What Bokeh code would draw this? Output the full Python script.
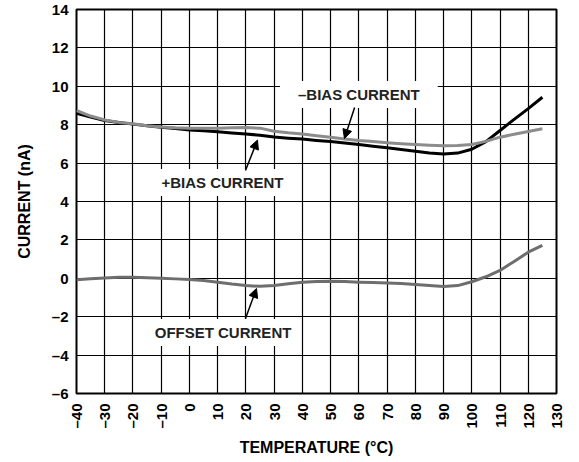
import math
from bokeh.plotting import figure
from bokeh.models import Range1d, FixedTicker, Label, Arrow, NormalHead
from bokeh.embed import file_html
from bokeh.resources import INLINE

# ---- data ----
temps = [-40, -35, -30, -25, -20, -15, -10, -5, 0, 5, 10, 15, 20, 25, 30, 35, 40,
         45, 50, 55, 60, 65, 70, 75, 80, 85, 90, 95, 100, 105, 110, 115, 120, 125]
plus_bias = [8.60, 8.40, 8.22, 8.12, 8.03, 7.95, 7.87, 7.80, 7.73, 7.68, 7.63, 7.57,
             7.52, 7.45, 7.36, 7.30, 7.25, 7.18, 7.12, 7.05, 6.97, 6.88, 6.80, 6.71,
             6.62, 6.53, 6.47, 6.52, 6.72, 7.12, 7.70, 8.28, 8.84, 9.43]
minus_bias = [8.74, 8.45, 8.25, 8.12, 8.05, 7.95, 7.88, 7.84, 7.82, 7.82, 7.82, 7.84,
              7.85, 7.82, 7.66, 7.58, 7.52, 7.43, 7.35, 7.26, 7.18, 7.12, 7.06, 7.01,
              6.97, 6.93, 6.90, 6.92, 6.97, 7.13, 7.35, 7.50, 7.65, 7.79]
offset = [-0.08, -0.02, 0.02, 0.05, 0.05, 0.03, 0.00, -0.03, -0.06, -0.12, -0.20, -0.30,
          -0.38, -0.42, -0.38, -0.28, -0.20, -0.17, -0.16, -0.17, -0.20, -0.22, -0.24,
          -0.27, -0.32, -0.38, -0.43, -0.38, -0.18, 0.08, 0.41, 0.88, 1.36, 1.71]

x_ticks = list(range(-40, 131, 10))
y_ticks = list(range(-6, 15, 2))


def tick_text(v):
    return "\u2013" + str(abs(v)) if v < 0 else str(v)


FONT = "Liberation Sans"

p = figure(width=571, height=460, output_backend="svg", toolbar_location=None,
           x_range=Range1d(-40, 130), y_range=Range1d(-6, 14),
           min_border_left=76, min_border_top=9, min_border_right=15,
           min_border_bottom=67)
p.background_fill_color = "white"
p.border_fill_color = "white"
p.outline_line_color = "black"
p.outline_line_width = 2

# axes
p.xaxis.ticker = FixedTicker(ticks=x_ticks)
p.yaxis.ticker = FixedTicker(ticks=y_ticks)
p.xaxis.major_label_overrides = {v: tick_text(v) for v in x_ticks}
p.yaxis.major_label_overrides = {v: tick_text(v) for v in y_ticks}
p.xaxis.major_label_orientation = math.pi / 2
for ax in (p.xaxis, p.yaxis):
    ax.axis_line_color = None
    ax.major_tick_in = 0
    ax.major_tick_out = 0
    ax.minor_tick_in = 0
    ax.minor_tick_out = 0
    ax.major_label_text_font = FONT
    ax.major_label_text_font_style = "bold"
    ax.major_label_text_font_size = "15px"
    ax.major_label_text_color = "black"
    ax.axis_label_text_font = FONT
    ax.axis_label_text_font_style = "bold"
    ax.axis_label_text_font_size = "16px"
    ax.axis_label_text_color = "black"
p.xaxis.major_label_standoff = 10
p.yaxis.major_label_standoff = 8
p.xaxis.axis_label = "TEMPERATURE (\u00b0C)"
p.yaxis.axis_label = "CURRENT (nA)"
p.xaxis.axis_label_standoff = 7
p.yaxis.axis_label_standoff = 16

# grid
p.xgrid.ticker = FixedTicker(ticks=x_ticks)
p.ygrid.ticker = FixedTicker(ticks=y_ticks)
for g in (p.xgrid, p.ygrid):
    g.grid_line_color = "black"
    g.grid_line_width = 1.2
    g.grid_line_alpha = 1.0

# curves
p.line(temps, offset, line_color="#6e6e6e", line_width=3, line_join="round")
p.line(temps, plus_bias, line_color="black", line_width=3, line_join="round")
p.line(temps, minus_bias, line_color="#8c8c8c", line_width=3, line_join="round")

# labels with white boxes
for txt, lx, ly, hpad in [("\u2013BIAS CURRENT", 60, 9.57, 18),
                          ("+BIAS CURRENT", 11.7, 4.99, 8),
                          ("OFFSET CURRENT", 11.9, -2.82, 5)]:
    p.add_layout(Label(x=lx, y=ly, text=txt, text_align="center",
                       text_baseline="middle", text_font=FONT,
                       text_font_style="bold", text_font_size="15px",
                       text_color="#222222", background_fill_color="white",
                       padding=dict(left=hpad, right=hpad, top=5, bottom=5)))

# arrows
for xs, ys, xe, ye in [(58.5, 8.9, 54.9, 7.28),
                       (19.85, 5.61, 24.1, 7.2),
                       (19.85, -2.09, 23.75, -0.53)]:
    p.add_layout(Arrow(end=NormalHead(size=9, fill_color="black", line_color="black"),
                       x_start=xs, y_start=ys, x_end=xe, y_end=ye,
                       line_color="black", line_width=1.5))

open("out.html", "w").write(file_html(p, INLINE))
